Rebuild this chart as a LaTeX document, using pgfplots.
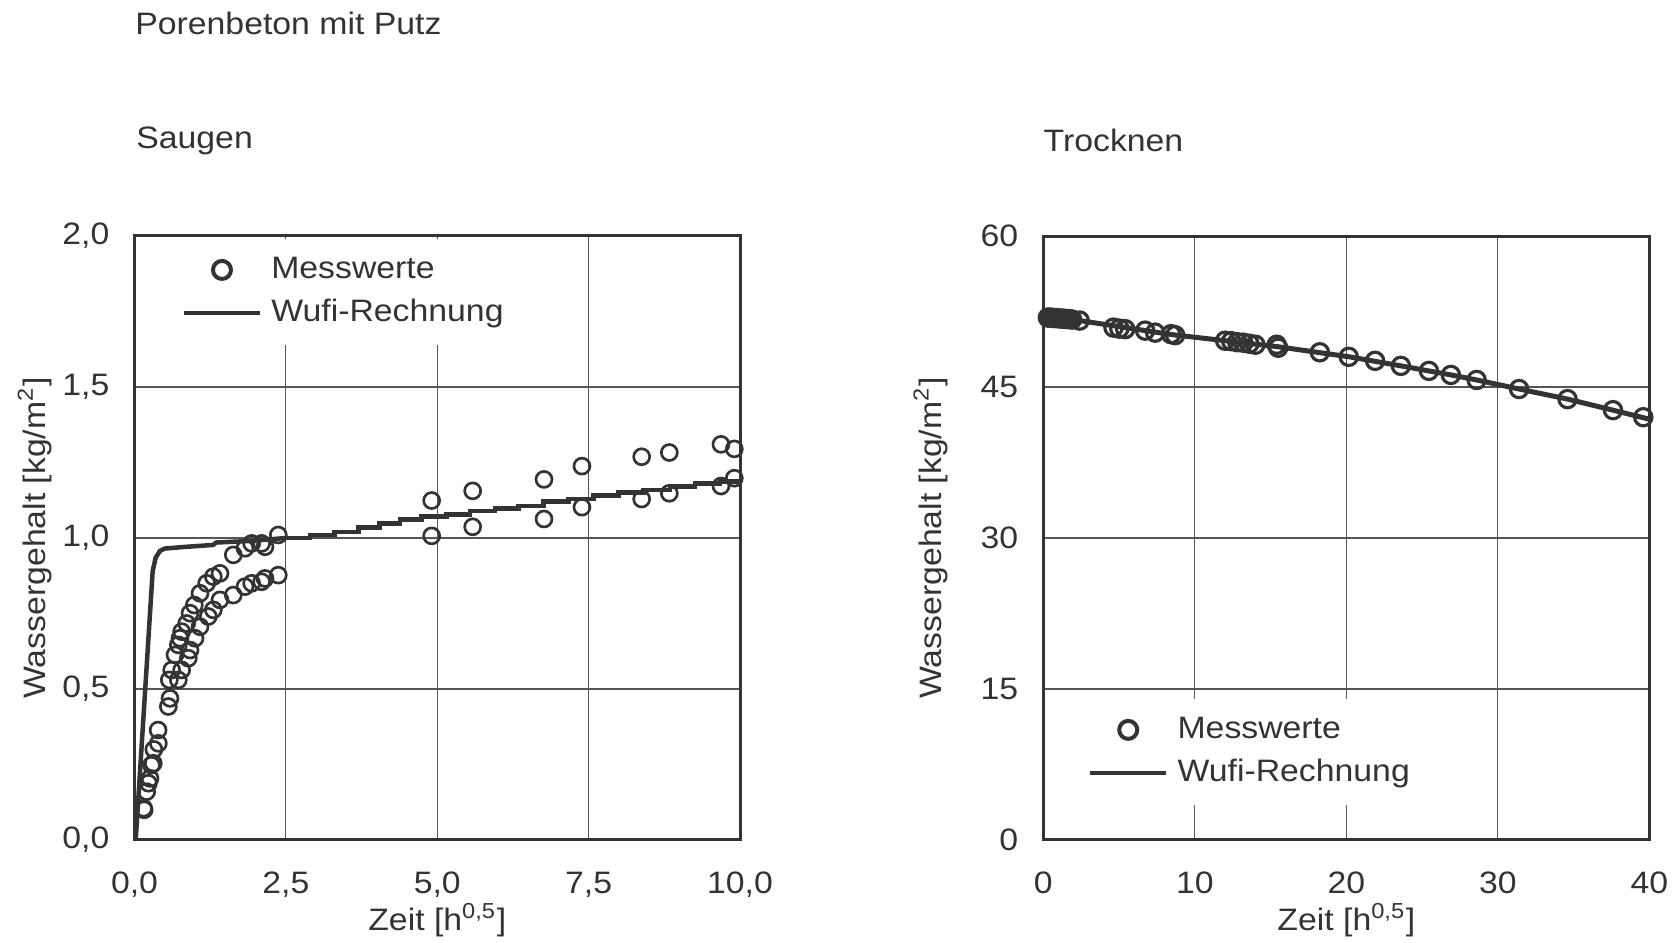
\documentclass[border=0pt]{standalone}
\usepackage{fontspec}
\setmainfont{Liberation Sans}[FakeStretch=1.09]
\usepackage{pgfplots}
\usepackage{pgfplotstable}
\pgfplotsset{compat=1.18}
\definecolor{dk}{HTML}{333333}
\definecolor{gr}{HTML}{555555}
\newcommand{\fs}{\fontsize{9.3}{11}\selectfont}

\pgfplotstableread{
x y
0.15 0.105
0.23 0.188
0.28 0.248
0.32 0.30
0.39 0.364
0.575 0.53
0.614 0.563
0.669 0.613
0.724 0.646
0.751 0.668
0.779 0.69
0.862 0.717
0.917 0.751
0.988 0.778
1.082 0.817
1.192 0.85
1.302 0.872
1.412 0.883
1.632 0.944
1.825 0.966
1.935 0.982
2.10 0.982
2.155 0.971
2.375 1.01
4.908 1.124
5.585 1.156
6.763 1.194
7.39 1.238
8.376 1.269
8.833 1.283
9.686 1.31
9.906 1.295
}\saugA

\pgfplotstableread{
x y
0.16 0.1
0.201 0.16
0.256 0.204
0.311 0.254
0.394 0.32
0.559 0.442
0.586 0.469
0.724 0.53
0.779 0.563
0.889 0.602
0.917 0.629
1.0 0.668
1.082 0.706
1.219 0.74
1.302 0.762
1.412 0.795
1.632 0.811
1.825 0.839
1.935 0.85
2.10 0.855
2.155 0.866
2.375 0.877
4.908 1.007
5.585 1.037
6.763 1.063
7.39 1.102
8.376 1.129
8.833 1.148
9.686 1.172
9.906 1.198
}\saugB

\pgfplotstableread{
x y
0.02 0.0
0.30 0.89
0.35 0.935
0.42 0.957
0.5 0.965
0.8 0.97
1.3 0.977
1.35 0.985
1.9 0.99
2.2 0.995
2.5 1.0
}\wufiSa

\pgfplotstableread{
x y
2.5 1.0
2.9 1.01
3.3 1.02
3.7 1.035
4.05 1.048
4.385 1.062
4.743 1.071
5.155 1.078
5.54 1.090
5.954 1.098
6.34 1.106
6.752 1.120
7.165 1.129
7.578 1.140
7.99 1.150
8.404 1.159
8.845 1.170
9.258 1.181
9.67 1.187
10.0 1.187
}\wufiSb

\pgfplotstableread{
x y
0.3 51.9
0.5 51.9
0.7 51.85
0.9 51.85
1.1 51.8
1.3 51.8
1.5 51.75
1.7 51.75
1.9 51.7
2.4 51.6
4.63 50.9
5.02 50.8
5.4 50.75
6.72 50.6
7.38 50.4
8.43 50.25
8.7 50.15
12.0 49.6
12.4 49.55
12.8 49.45
13.2 49.4
13.6 49.3
14.0 49.2
15.4 49.2
15.5 48.9
18.25 48.45
20.16 48.0
21.9 47.6
23.6 47.1
25.45 46.6
26.9 46.2
28.6 45.7
31.4 44.8
34.6 43.8
37.6 42.7
39.6 42.0
}\trockM

\pgfplotstableread{
x y
0 52.0
2.4 51.6
5 51.0
8.5 50.2
12 49.6
15.5 49.0
18.3 48.4
20.2 48.0
23.6 47.1
26.9 46.2
28.6 45.7
31.4 44.8
34.6 43.8
37.6 42.7
40 41.8
}\trockW

\pgfplotsset{
  myax/.style={
    scale only axis, width=181.65pt, height=181.2pt,
    axis line style={dk, line width=0.9pt},
    grid=major, major grid style={gr, line width=0.35pt},
    major tick length=0pt,
    tick style={draw=none},
    ticklabel style={font=\fs, text=dk, /pgf/number format/assume math mode=true},
    yticklabel style={xshift=-4pt},
    xticklabel style={yshift=-6pt},
    label style={font=\fs, text=dk},
    xlabel={Zeit [h\textsuperscript{0,5}]},
    ylabel={Wassergehalt [kg/m\textsuperscript{2}]},
    xlabel style={at={(axis description cs:0.5,-0.1325)}, anchor=center},
    legend style={draw=none, fill=white, inner xsep=2pt, inner ysep=3.4pt,
      nodes={inner sep=2pt}, font=\fs, text=dk, anchor=north west,
      row sep=0.8pt, column sep=0.8pt},
    legend cell align=left,
    legend image code/.code={\draw[mark repeat=2, mark phase=2, #1] plot coordinates {(0pt,0pt) (11.4pt,0pt) (22.8pt,0pt)};},
  },
  meas/.style={only marks, mark=o, mark size=2.4pt,
    mark options={draw=dk, fill=white, line width=0.8pt}},
  wufi/.style={no marks, dk, line width=1.35pt},
}

\begin{document}
\begin{tikzpicture}
\path[use as bounding box] (0,0) rectangle (503.1pt,282.9pt);

\node[anchor=base west, inner sep=0pt, font=\fs, text=dk] at (40.4pt,272.4pt) {Porenbeton mit Putz};
\node[anchor=base west, inner sep=0pt, font=\fs, text=dk] at (40.7pt,238.4pt) {Saugen};
\node[anchor=base west, inner sep=0pt, font=\fs, text=dk] at (312.9pt,237.3pt) {Trocknen};

\begin{axis}[myax, at={(40.35pt,30.9pt)}, anchor=south west,
  xmin=0, xmax=10, ymin=0, ymax=2,
  xtick={0,2.5,5,7.5,10}, ytick={0,0.5,1,1.5,2},
  ticklabel style={/pgf/number format/fixed, /pgf/number format/fixed zerofill, /pgf/number format/precision=1, /pgf/number format/use comma},
  ylabel style={at={(axis description cs:-0.1643,0.5)}, anchor=center},
  legend style={at={(axis description cs:0.0663,0.9965)}},
]
\addlegendimage{only marks, mark=o, mark size=2.7pt, mark options={draw=dk, fill=white, line width=1.2pt}}
\addlegendentry{Messwerte}
\addlegendimage{dk, line width=1.2pt}
\addlegendentry{Wufi-Rechnung}
\addplot[wufi, forget plot] table[x=x,y=y] {\wufiSa};
\addplot[wufi, const plot, forget plot] table[x=x,y=y] {\wufiSb};
\addplot[meas, forget plot] table[x=x,y=y] {\saugA};
\addplot[meas, forget plot] table[x=x,y=y] {\saugB};
\end{axis}

\begin{axis}[myax, at={(313pt,30.9pt)}, anchor=south west, width=181.8pt,
  xmin=0, xmax=40, ymin=0, ymax=60,
  xtick={0,10,20,30,40}, ytick={0,15,30,45,60},
  ylabel style={at={(axis description cs:-0.186,0.5)}, anchor=center},
  legend style={at={(axis description cs:0.062,0.235)}},
]
\addlegendimage{only marks, mark=o, mark size=2.7pt, mark options={draw=dk, fill=white, line width=1.2pt}}
\addlegendentry{Messwerte}
\addlegendimage{dk, line width=1.2pt}
\addlegendentry{Wufi-Rechnung}
\addplot[wufi, line width=1.5pt, forget plot] table[x=x,y=y] {\trockW};
\addplot[meas, mark size=2.6pt, mark options={draw=dk, fill=white, line width=0.95pt}, forget plot] table[x=x,y=y] {\trockM};
\end{axis}
\end{tikzpicture}
\end{document}
